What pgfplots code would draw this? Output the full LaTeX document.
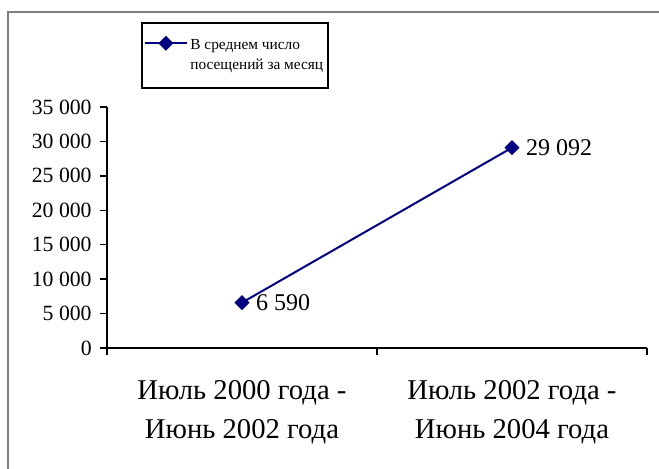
\documentclass[border=0pt]{standalone}
\usepackage{fontspec}
\setmainfont{Liberation Serif}
\usepackage{pgfplots}
\pgfplotsset{compat=1.18}
\definecolor{navy}{RGB}{0,0,128}
\definecolor{framegray}{RGB}{128,128,128}
\begin{document}
\begin{tikzpicture}
\useasboundingbox (0,0) rectangle (494.25pt,351pt);
\draw[framegray, line width=0.9pt] (6pt,-2pt) -- (6pt,342pt) -- (497pt,342pt);
\begin{axis}[
  at={(80.25pt,90pt)}, anchor=south west,
  scale only axis, width=405pt, height=180.75pt,
  xmin=-0.5, xmax=1.5, ymin=0, ymax=35000,
  axis x line=bottom, axis y line=left,
  axis line style={-, line width=1pt, black},
  xtick={0,1}, xticklabels={{Июль 2000 года -\\[4pt]Июнь 2002 года},{Июль 2002 года -\\[4pt]Июнь 2004 года}},
  major x tick style={draw=none},
  minor xtick={-0.5,0.5,1.5},
  minor x tick style={line width=1pt, black},
  minor tick length=5.5pt,
  ytick={0,5000,...,35000},
  scaled y ticks=false,
  y tick style={line width=1pt, black},
  major tick length=5pt,
  tick align=outside,
  x tick label style={align=center, font=\fontsize{21.5}{25}\selectfont, yshift=-16pt},
  y tick label style={font=\fontsize{16.3}{19}\selectfont, xshift=-3pt},
  /pgf/number format/.cd, 1000 sep={\ }, assume math mode=true, /pgfplots/.cd,
  nodes near coords,
  every node near coord/.append style={anchor=west, font=\fontsize{18}{20}\selectfont, xshift=7pt, text=black},
  legend style={at={(axis description cs:0.063,1.3527)}, anchor=north west,
    draw=black, line width=1.5pt, font=\fontsize{11.5}{15}\selectfont,
    cells={align=left}, inner xsep=1.5pt, inner ysep=10pt},
  legend image code/.code={
    \draw[mark repeat=2,mark phase=2, yshift=9.5pt] plot coordinates {(0cm,0cm)(0.55cm,0cm)(1.1cm,0cm)};
  },
  clip=false,
]
\addplot[navy, line width=1.5pt, mark=square*, mark size=3.7pt, mark options={rotate=45, solid, fill=navy, line width=0.5pt}]
  coordinates {(0,6590) (1,29092)};
\addlegendentry{В среднем число\\посещений за месяц}
\end{axis}
\end{tikzpicture}
\end{document}
